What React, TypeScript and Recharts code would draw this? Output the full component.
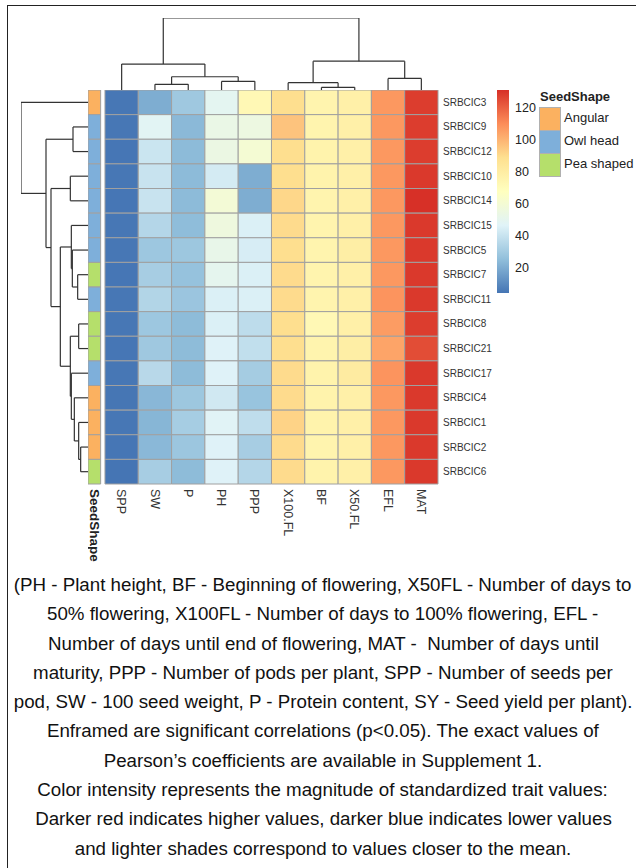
import React from 'react';
import { ComposedChart, XAxis, YAxis, ReferenceArea, ReferenceLine } from 'recharts';

// ---------- data ----------
const rowNames = ['SRBCIC3', 'SRBCIC9', 'SRBCIC12', 'SRBCIC10', 'SRBCIC14', 'SRBCIC15', 'SRBCIC5', 'SRBCIC7',
  'SRBCIC11', 'SRBCIC8', 'SRBCIC21', 'SRBCIC17', 'SRBCIC4', 'SRBCIC1', 'SRBCIC2', 'SRBCIC6'];
const colNames = ['SPP', 'SW', 'P', 'PH', 'PPP', 'X100.FL', 'BF', 'X50.FL', 'EFL', 'MAT'];
const seedShape = ['Angular', 'Owl head', 'Owl head', 'Owl head', 'Owl head', 'Owl head', 'Owl head', 'Pea shaped',
  'Owl head', 'Pea shaped', 'Pea shaped', 'Owl head', 'Angular', 'Angular', 'Angular', 'Pea shaped'];
const shapeLevels = ['Angular', 'Owl head', 'Pea shaped'];

const SPP = [4.5, 4.6, 4.4, 4.5, 4.3, 4.5, 4.6, 4.4, 4.5, 4.6, 4.4, 4.5, 4.2, 4.5, 4.4, 4.0];
const SW = [20, 48, 40.5, 40, 40, 34.5, 28.5, 31, 34, 28.5, 29, 35.5, 23, 22.5, 23.3, 31];
const P = [29, 23.5, 24, 24, 24, 24.5, 28.4, 26.4, 27.8, 24.3, 24.3, 24.3, 28.4, 30.9, 28, 24.3];
const PH = [49, 53, 54, 43, 59, 56, 52, 50, 45, 45, 46, 46, 42, 47, 46, 46];
const PPP = [72, 55, 60, 20, 20, 45, 44, 45, 45, 37, 38, 30.5, 27, 37.5, 31, 34.5];
const X100FL = [89, 96, 89, 89, 91, 90, 89, 90, 90, 89, 89, 90, 90, 92, 90, 90];
const BF = [75, 75, 76, 76, 75, 75, 75, 75, 75, 72, 75, 76, 76, 76, 75, 76];
const X50FL = [78, 78, 78, 78, 78, 78, 79, 78, 78, 78, 79, 81, 78, 78, 78, 78];
const EFL = [107, 107, 107, 107, 107, 107, 107, 107, 108, 106, 104, 108, 107, 107, 107, 107];
const MAT = [128, 128, 128, 129, 131, 129, 129, 129, 129, 128, 124.5, 129, 129, 129, 129, 129];

// hclust-style merges: [child, child, height]; strings are leaves, numbers refer to earlier merges
const rowMerges: [string | number, string | number, number][] = [
  ['SRBCIC2', 'SRBCIC6', 1.1],
  ['SRBCIC7', 'SRBCIC11', 1.55],
  ['SRBCIC8', 'SRBCIC21', 1.4],
  ['SRBCIC1', 0, 1.4],
  ['SRBCIC4', 3, 2.05],
  ['SRBCIC5', 1, 2.35],
  ['SRBCIC9', 'SRBCIC12', 2.25],
  ['SRBCIC15', 5, 2.5],
  ['SRBCIC17', 4, 2.5],
  ['SRBCIC10', 'SRBCIC14', 2.65],
  [2, 8, 2.65],
  [7, 10, 4.15],
  [9, 11, 5.55],
  [6, 12, 6.3],
  ['SRBCIC3', 13, 10.05],
];
const colMerges: [string | number, string | number, number][] = [
  ['BF', 'X50.FL', 0.4],
  ['SW', 'P', 0.85],
  ['PH', 'PPP', 1.3],
  ['X100.FL', 0, 1.1],
  ['EFL', 'MAT', 1.75],
  [1, 2, 2.0],
  ['SPP', 5, 3.9],
  [3, 4, 4.35],
  [6, 7, 10.85],
];

const legendTicks = [20, 40, 60, 80, 100, 120];

const captionLines = [
  '(PH - Plant height, BF - Beginning of flowering, X50FL - Number of days to',
  '50% flowering, X100FL - Number of days to 100% flowering, EFL -',
  'Number of days until end of flowering, MAT -\u00a0 Number of days until',
  'maturity, PPP - Number of pods per plant, SPP - Number of seeds per',
  'pod, SW - 100 seed weight, P - Protein content, SY - Seed yield per plant).',
  'Enframed are significant correlations (p<0.05). The exact values of',
  'Pearson\u2019s coefficients are available in Supplement 1.',
  'Color intensity represents the magnitude of standardized trait values:',
  'Darker red indicates higher values, darker blue indicates lower values',
  'and lighter shades correspond to values closer to the mean.',
];

// ---------- styling ----------
const palette = ['#4575B4', '#91BFDB', '#E0F3F8', '#FFFFBF', '#FEE090', '#FC8D59', '#D73027'];
const shapeColors: Record<string, string> = { 'Angular': '#FBB160', 'Owl head': '#7EAFDA', 'Pea shaped': '#B5DF6B' };
const FONT = '"Liberation Sans", Arial, sans-serif';
const LINE = '#333333';
const CELL_BORDER = '#a0a0a0';
const ANN_X1 = -0.51;
const ANN_X2 = -0.13;

// ---------- derived ----------
const columns = [SPP, SW, P, PH, PPP, X100FL, BF, X50FL, EFL, MAT];
const allValues = columns.flat();
const vMin = Math.min(...allValues);
const vMax = Math.max(...allValues);

function hexToRgb(h: string) {
  const n = parseInt(h.slice(1), 16);
  return [(n >> 16) & 255, (n >> 8) & 255, n & 255];
}
function colorFor(v: number) {
  const t = Math.max(0, Math.min(1, (v - vMin) / (vMax - vMin))) * (palette.length - 1);
  const i = Math.min(palette.length - 2, Math.floor(t));
  const f = t - i;
  const a = hexToRgb(palette[i]);
  const b = hexToRgb(palette[i + 1]);
  const c = a.map((x, k) => Math.round(x + (b[k] - x) * f));
  return `rgb(${c[0]},${c[1]},${c[2]})`;
}

const cells = rowNames.flatMap((r, i) => colNames.map((c, j) => ({ row: i, col: j, value: columns[j][i] })));

type Seg = { h: number; p: number }[];
function dendroSegments(merges: [string | number, string | number, number][], leaves: string[]) {
  const nodes: { pos: number; h: number }[] = [];
  const info = (ref: string | number) =>
    typeof ref === 'string' ? { pos: leaves.indexOf(ref) + 0.5, h: 0 } : nodes[ref];
  const segs: Seg[] = [];
  merges.forEach(([a, b, h]) => {
    const A = info(a);
    const B = info(b);
    segs.push([{ h: A.h, p: A.pos }, { h, p: A.pos }]);
    segs.push([{ h, p: A.pos }, { h, p: B.pos }]);
    segs.push([{ h: B.h, p: B.pos }, { h, p: B.pos }]);
    nodes.push({ pos: (A.pos + B.pos) / 2, h });
  });
  return segs;
}
const rowSegs = dendroSegments(rowMerges, rowNames);
const colSegs = dendroSegments(colMerges, colNames);
const rowRootH = Math.max(...rowMerges.map((m) => m[2]));
const colRootH = Math.max(...colMerges.map((m) => m[2]));

const annCenter = (ANN_X1 + ANN_X2) / 2;
const colTicks = [annCenter, ...colNames.map((_, j) => j + 0.5)];
const rowTicks = rowNames.map((_, i) => i + 0.5);

const ColTick = (props: any) => {
  const { x, y, payload } = props;
  const v = payload.value as number;
  const isAnn = v < 0;
  const label = isAnn ? 'SeedShape' : colNames[Math.floor(v)];
  return (
    <text
      x={x}
      y={y}
      transform={`rotate(90, ${x}, ${y})`}
      textAnchor="start"
      dy="0.35em"
      fontSize={isAnn ? 13.5 : 12.5}
      fontWeight={isAnn ? 'bold' : 'normal'}
      fill={isAnn ? '#222' : '#333'}
      fontFamily={FONT}
    >
      {label}
    </text>
  );
};

const M0 = { top: 0, right: 0, bottom: 0, left: 0 };

export default function App() {
  return (
    <div style={{ position: 'absolute', left: 0, top: 0, width: 636, height: 868, overflow: 'hidden', fontFamily: FONT, background: '#fff' }}>
      {/* frame */}
      <div style={{ position: 'absolute', left: 7, top: 5, width: 700, height: 900, borderLeft: '1px solid #222', borderTop: '1px solid #222' }} />

      {/* top dendrogram */}
      <div style={{ position: 'absolute', left: 105, top: 18 }}>
        <ComposedChart width={333} height={72} margin={M0}>
          <XAxis type="number" dataKey="x" domain={[0, colNames.length]} allowDataOverflow hide />
          <YAxis type="number" dataKey="y" domain={[0, colRootH]} allowDataOverflow hide />
          {colSegs.map((s, k) => (
            <ReferenceLine key={k} segment={[{ x: s[0].p, y: s[0].h }, { x: s[1].p, y: s[1].h }]}
              stroke={LINE} strokeWidth={1.2} ifOverflow="visible" />
          ))}
        </ComposedChart>
      </div>

      {/* left dendrogram */}
      <div style={{ position: 'absolute', left: 21, top: 90 }}>
        <ComposedChart width={67} height={394} margin={M0}>
          <XAxis type="number" dataKey="x" domain={[0, rowRootH]} reversed allowDataOverflow hide />
          <YAxis type="number" dataKey="y" domain={[0, rowNames.length]} reversed allowDataOverflow hide />
          {rowSegs.map((s, k) => (
            <ReferenceLine key={k} segment={[{ x: s[0].h, y: s[0].p }, { x: s[1].h, y: s[1].p }]}
              stroke={LINE} strokeWidth={1.2} ifOverflow="visible" />
          ))}
        </ComposedChart>
      </div>

      {/* heatmap */}
      <div style={{ position: 'absolute', left: 88, top: 90 }}>
        <ComposedChart width={440} height={484} margin={M0}>
          <XAxis type="number" dataKey="x" domain={[ANN_X1, colNames.length]} allowDataOverflow
            ticks={colTicks} interval={0} axisLine={false} tickLine={false} tickSize={0} tickMargin={5}
            height={90} tick={<ColTick />} />
          <YAxis type="number" dataKey="y" domain={[0, rowNames.length]} reversed allowDataOverflow
            orientation="right" ticks={rowTicks} interval={0} axisLine={false} tickLine={false}
            tickSize={0} tickMargin={5} width={90}
            tickFormatter={(v: number) => rowNames[Math.floor(v)]}
            tick={{ fontSize: 10, fill: '#333', fontFamily: FONT }} />
          {cells.map((c) => (
            <ReferenceArea key={`${c.row}-${c.col}`} x1={c.col} x2={c.col + 1} y1={c.row} y2={c.row + 1}
              fill={colorFor(c.value)} fillOpacity={1} stroke={CELL_BORDER} strokeWidth={1} ifOverflow="visible" />
          ))}
          {seedShape.map((s, i) => (
            <ReferenceArea key={`ann-${i}`} x1={ANN_X1} x2={ANN_X2} y1={i} y2={i + 1}
              fill={shapeColors[s]} fillOpacity={1} stroke={CELL_BORDER} strokeWidth={1} ifOverflow="visible" />
          ))}
        </ComposedChart>
      </div>

      {/* colour legend */}
      <div style={{ position: 'absolute', left: 497, top: 90 }}>
        <ComposedChart width={50} height={203} margin={M0}>
          <defs>
            <linearGradient id="hmLegendGrad" x1="0" y1="1" x2="0" y2="0">
              {palette.map((c, i) => (
                <stop key={i} offset={i / (palette.length - 1)} stopColor={c} />
              ))}
            </linearGradient>
          </defs>
          <XAxis type="number" dataKey="x" domain={[0, 1]} allowDataOverflow hide />
          <YAxis type="number" dataKey="y" orientation="right" domain={[vMin, vMax]} allowDataOverflow
            ticks={legendTicks} interval={0} width={38} axisLine={false} tickLine={false} tickSize={0}
            tickMargin={6} tick={{ fontSize: 12.5, fill: '#222', fontFamily: FONT }} />
          <ReferenceArea x1={0} x2={1} y1={vMin} y2={vMax} fill="url(#hmLegendGrad)" fillOpacity={1}
            stroke="none" ifOverflow="visible" />
        </ComposedChart>
      </div>

      {/* annotation legend */}
      <div style={{ position: 'absolute', left: 540, top: 90, fontSize: 13, fontWeight: 'bold', color: '#222', lineHeight: '14px' }}>
        SeedShape
      </div>
      {shapeLevels.map((s, i) => (
        <React.Fragment key={s}>
          <div style={{ position: 'absolute', left: 539, top: 107 + i * 23, width: 20, height: 22, background: shapeColors[s], border: '0.5px solid #b0b0b0' }} />
          <div style={{ position: 'absolute', left: 564, top: 110 + i * 23, fontSize: 13, color: '#222', lineHeight: '16px', whiteSpace: 'nowrap' }}>
            {s}
          </div>
        </React.Fragment>
      ))}

      {/* caption */}
      <div style={{ position: 'absolute', left: 8, top: 571, width: 630, textAlign: 'center', fontSize: 17.5, lineHeight: '29.3px', color: '#111' }}>
        {captionLines.map((l, i) => (
          <div key={i} style={{ whiteSpace: 'nowrap' }}>
            <span style={{ display: 'inline-block', transform: 'scaleX(1.07)', transformOrigin: 'center' }}>{l}</span>
          </div>
        ))}
      </div>
    </div>
  );
}
